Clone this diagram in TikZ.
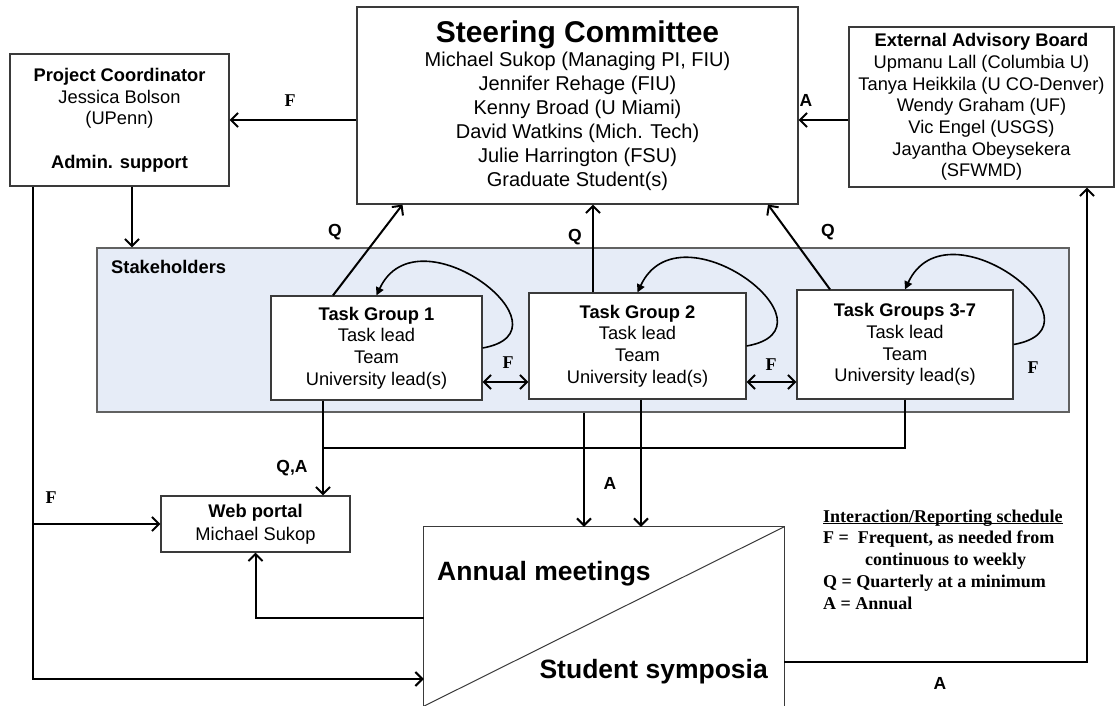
\documentclass[tikz,border=0pt]{standalone}
\usepackage{fontspec}
\setmainfont{Liberation Sans}
\newfontfamily\legendfont{Liberation Serif}
\usepackage{xcolor}
\usetikzlibrary{arrows.meta}
\usetikzlibrary{calc}
\usetikzlibrary{positioning}

\definecolor{stakeblue}{HTML}{E6ECF7}
\definecolor{boxline}{HTML}{3A3A3A}

\tikzset{
  box/.style={draw=boxline, line width=1.2pt, fill=white, align=center, inner sep=0pt},
  link/.style={line width=2pt},
  selfloop/.style={line width=1.6pt, -{Triangle[length=8pt,width=8pt]}, out=10, in=65, looseness=2.1},
  qlbl/.style={font=\fontsize{17.5}{17.5}\selectfont\bfseries, inner sep=0pt},
  flbl/.style={font=\legendfont\fontsize{18}{18}\selectfont\bfseries, inner sep=0pt}
}

\begin{document}
\begin{tikzpicture}[x=1pt, y=1pt, >={Straight Barb[length=7pt,width=14pt]},
  font=\fontsize{18.3}{21.7}\selectfont]
\useasboundingbox (0,0) rectangle (1116,-706);

% Stakeholders (background)
\node[draw=boxline!80, line width=1.2pt, fill=stakeblue, inner sep=0pt,
  minimum width=972pt, minimum height=164pt] (stake) at (583,-330) {};
\node[anchor=west, inner sep=0pt, font=\fontsize{18.3}{21.7}\selectfont\bfseries] (stakelbl) at (111,-267) {Stakeholders};

% Committees (nodes)
\node[box, minimum width=441pt, minimum height=197pt, font=\fontsize{20}{24}\selectfont] (steer) at (577.5,-105.5)
  {{\fontsize{30}{30}\selectfont\bfseries Steering Committee}\\
   Michael Sukop (Managing PI, FIU)\\ Jennifer Rehage (FIU)\\ Kenny Broad (U Miami)\\
   David Watkins (Mich. Tech)\\ Julie Harrington (FSU)\\ Graduate Student(s)};
\node[box, minimum width=219pt, minimum height=132pt] (pc) at (119.5,-120)
  {\textbf{Project Coordinator}\\ Jessica Bolson\\ (UPenn)\\[21.7pt] \textbf{Admin. support}};
\node[box, minimum width=265pt, minimum height=160pt] (eab) at (981.5,-107)
  {\textbf{External Advisory Board}\\ Upmanu Lall (Columbia U)\\ Tanya Heikkila (U CO-Denver)\\
   Wendy Graham (UF)\\ Vic Engel (USGS)\\ Jayantha Obeysekera\\ (SFWMD)};

% Task groups (nodes)
\node[box, minimum width=211pt, minimum height=104pt] (tg1) at (376.5,-348)
  {\textbf{Task Group 1}\\ Task lead\\ Team\\ University lead(s)};
\node[box, minimum width=217pt, minimum height=106pt] (tg2) at (637.5,-346)
  {\textbf{Task Group 2}\\ Task lead\\ Team\\ University lead(s)};
\node[box, minimum width=216pt, minimum height=109pt] (tg3) at (905,-344.5)
  {\textbf{Task Groups 3-7}\\ Task lead\\ Team\\ University lead(s)};

% Web portal and meetings
\node[box, minimum width=189pt, minimum height=56pt, font=\fontsize{18.3}{23}\selectfont] (web) at (255.5,-524)
  {\textbf{Web portal}\\ Michael Sukop};
\node[inner sep=0pt, minimum width=360pt, minimum height=179pt] (annual) at (604,-616.5) {};
\draw[draw=boxline, line width=1.2pt] (annual.south west) -- (annual.north west) -- (annual.north east) -- (annual.south east);
\draw[draw=boxline, line width=1pt] (annual.south west) -- (annual.north east);
\node[anchor=west, inner sep=0pt, font=\fontsize{26.5}{30}\selectfont\bfseries] (meet) at (437,-574) {Annual meetings};
\node[anchor=east, inner sep=0pt, font=\fontsize{26.5}{30}\selectfont\bfseries] (symp) at (768,-672) {Student symposia};

% Legend
\node[anchor=north west, align=left, inner sep=0pt, font=\legendfont\fontsize{18}{21.7}\selectfont\bfseries] (legend) at (823,-522)
  {\underline{\smash{Interaction/Reporting schedule}}\\
   F =\ \ Frequent, as needed from\\
   \hspace*{42pt}continuous to weekly\\
   Q = Quarterly at a minimum\\
   A = Annual};

% Arrows to the steering committee
\draw[link,->] (steer.west |- pc.east) -- (pc.east);
\coordinate (eabA) at ([yshift=-13pt]eab.west);
\draw[link,->] (eabA) -- (eabA -| steer.east);
\coordinate (pcdown) at ([xshift=12.5pt]pc.south);
\draw[link,->] (pcdown) -- (pcdown |- stake.north);
\coordinate (q1s) at ([xshift=-43.5pt]tg1.north);
\coordinate (q1e) at ([xshift=-175pt]steer.south);
\draw[link,->] (q1s) -- (q1e);
\coordinate (q2s) at ([xshift=-44.5pt]tg2.north);
\draw[link,->] (q2s) -- (q2s |- steer.south);
\coordinate (q3s) at ([xshift=-75pt]tg3.north);
\coordinate (q3e) at ([xshift=190.5pt]steer.south);
\draw[link,->] (q3s) -- (q3e);

% Task group loops and exchanges
\foreach \tg in {tg1,tg2,tg3}
  \draw[selfloop] (\tg.east) to (\tg.north);
\coordinate (f12) at ([yshift=-34pt]tg1.east);
\draw[link,<->] (f12) -- (f12 -| tg2.west);
\coordinate (f23) at ([yshift=-36pt]tg2.east);
\draw[link,<->] (f23) -- (f23 -| tg3.west);

% Lines below the task groups
\coordinate (qa) at ([xshift=-53.5pt]tg1.south);
\draw[link,->] (qa) -- (qa |- web.north);
\coordinate (join) at (323,-448);
\draw[link] (tg3.south) |- (join);
\coordinate (a1) at ([xshift=1pt]stake.south);
\draw[link,->] (a1) -- (a1 |- annual.north);
\coordinate (a2) at ([xshift=3.5pt]tg2.south);
\draw[link,->] (a2) -- (a2 |- annual.north);

% Coordinator line, portal and board
\coordinate (pcleft) at ([xshift=24pt]pc.south west);
\draw[link,->] (pcleft) |- ([yshift=-62.5pt]annual.west);
\draw[link,->] (pcleft |- web.west) -- (web.west);
\coordinate (amw) at ([yshift=-1.5pt]annual.west);
\draw[link,->] (amw) -| (web.south);
\coordinate (ame) at ([yshift=-45.5pt]annual.east);
\draw[link,->] (ame) -| ([xshift=105.5pt]eab.south);

% Labels
\node[flbl] (lf1) at (290,-101) {F};
\node[qlbl] (la1) at (806,-100) {A};
\node[qlbl] (lq1) at (335,-232) {Q};
\node[qlbl] (lq2) at (575,-237) {Q};
\node[qlbl] (lq3) at (828,-232) {Q};
\node[flbl] (lf2) at (508,-363) {F};
\node[flbl] (lf3) at (771,-365) {F};
\node[flbl] (lf4) at (1033,-368) {F};
\node[qlbl] (lqa) at (292,-468) {Q,A};
\node[flbl] (lf5) at (51,-498) {F};
\node[qlbl] (la2) at (610,-483) {A};
\node[qlbl] (la3) at (940,-683) {A};
\end{tikzpicture}
\end{document}
